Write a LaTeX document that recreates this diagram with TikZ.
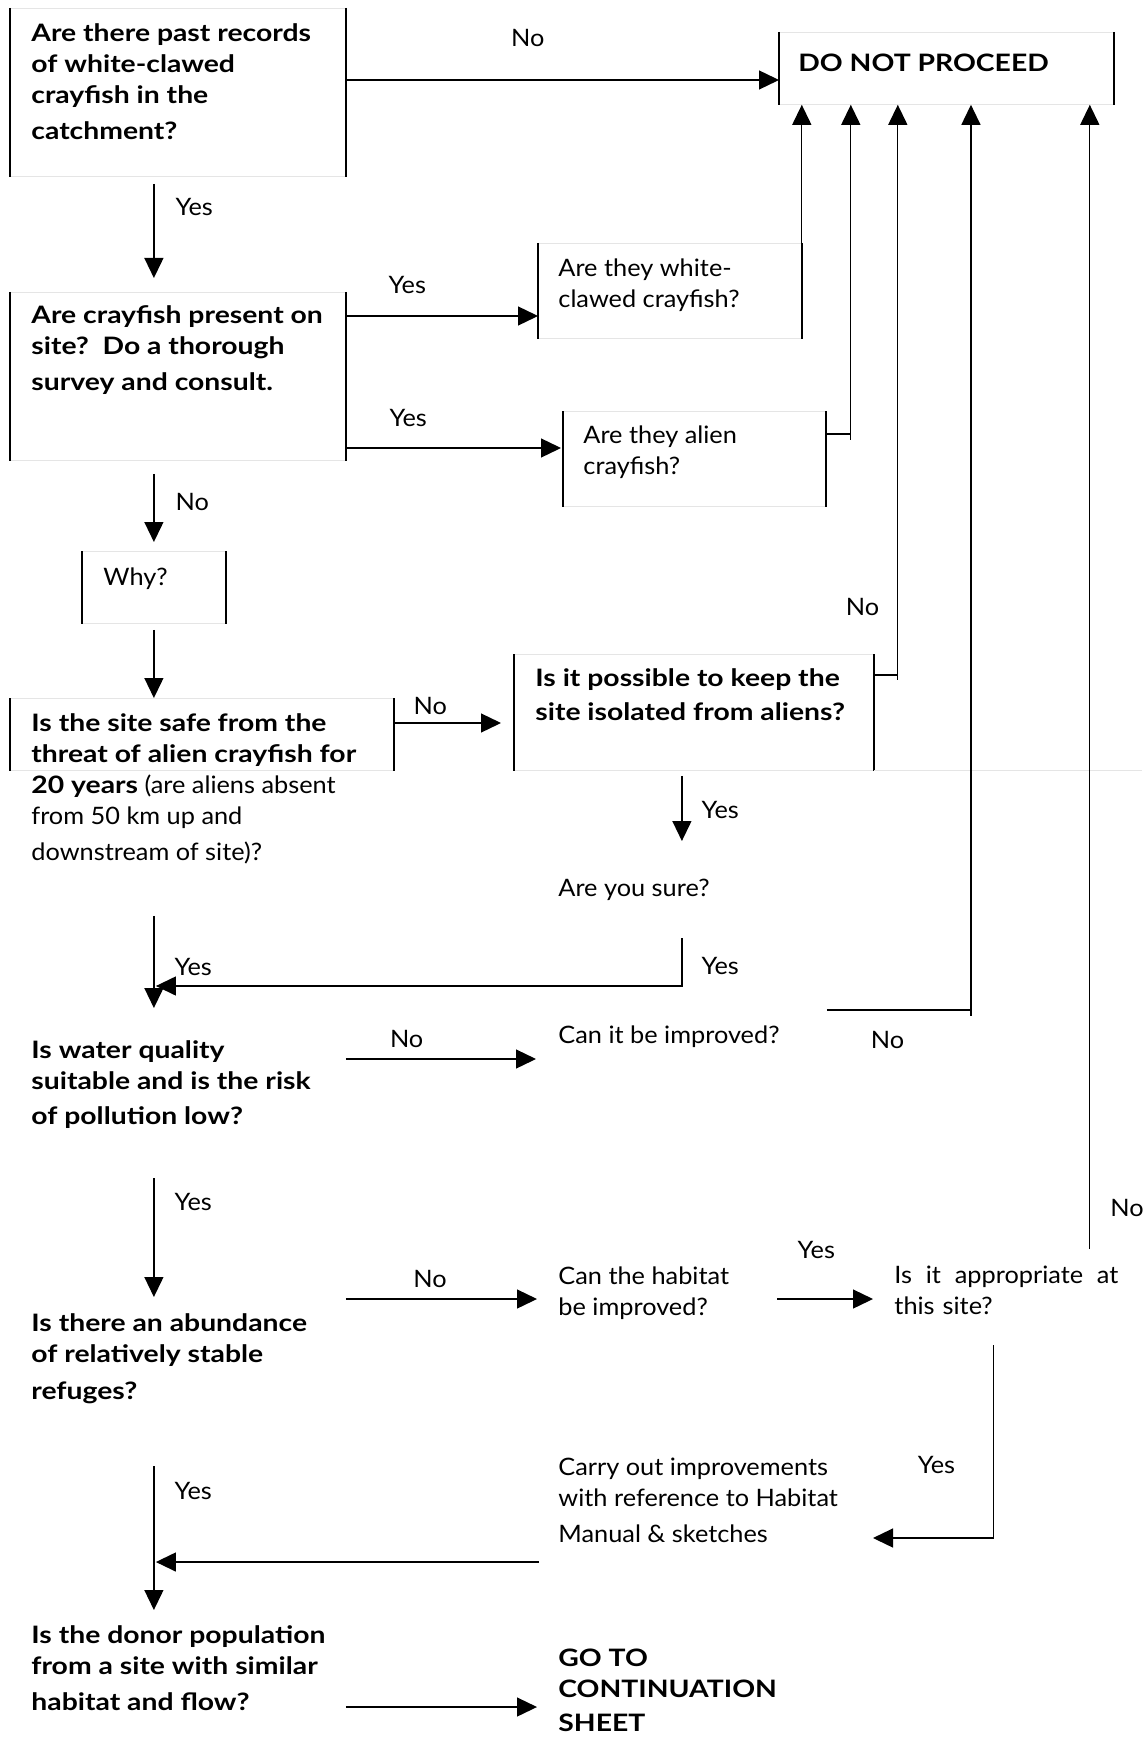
\documentclass[tikz,border=0pt]{standalone}
\usepackage{fontspec}
\setmainfont{Lato}[FakeStretch=1.055,BoldFeatures={FakeStretch=1.18}]
\usetikzlibrary{positioning,calc,arrows.meta}

\newcommand\flowfont{\fontsize{12}{15.5}\selectfont}

\begin{document}
\begin{tikzpicture}[
    x=0.5pt, y=-0.5pt,
    font=\flowfont,
    side/.style={draw=black, line width=0.7pt},
    frame/.style={
        rectangle, draw=black!10, line width=0.4pt, inner sep=0pt, anchor=north west,
        append after command={
            (\tikzlastnode.north west) edge [side] (\tikzlastnode.south west)
            (\tikzlastnode.north east) edge [side] (\tikzlastnode.south east)
        }
    },
    question/.style={align=left, inner sep=0pt, font=\flowfont\bfseries},
    note/.style={align=left, inner sep=0pt},
    answer/.style={inner sep=0pt},
    wire/.style={line width=0.65pt},
    arr/.style={wire, -{Triangle[length=10pt,width=9.5pt]}}
]
    \path [fill=white, use as bounding box] (0,0) rectangle (1147,1738);

    % framed boxes
    \node (records) [frame, minimum width=167.5pt, minimum height=84pt] at (10,8) {};
    \node (dnp) [frame, minimum width=167pt, minimum height=36pt] at (779,32) {};
    \node (present) [frame, minimum width=167.5pt, minimum height=84pt] at (10,292) {};
    \node (white) [frame, minimum width=131.5pt, minimum height=47.5pt] at (538,243) {};
    \node (alien) [frame, minimum width=131pt, minimum height=47.5pt] at (563,411) {};
    \node (why) [frame, minimum width=71.5pt, minimum height=36pt] at (82,551) {};
    \node (safe) [frame, minimum width=191.5pt, minimum height=36pt] at (10,698) {};
    \node (isolate) [frame, minimum width=179.5pt, minimum height=58pt] at (514,654) {};
    \draw [black!10, line width=0.4pt] (isolate.south east) -- ++(268,0);

    % texts in the boxes
    \node (recordsq) [question, below right=7.5pt and 10.5pt of records.north west] {Are there past records\\ of white-clawed\\ crayfish in the\\[2.5pt] catchment?};
    \node (dnpq) [question, below right=11pt and 9.5pt of dnp.north west] {DO NOT PROCEED};
    \node (presentq) [question, below right=6.5pt and 10.5pt of present.north west] {Are crayfish present on\\ site?\ \ Do a thorough\\[2.5pt] survey and consult.};
    \node (whiteq) [note, below right=7.5pt and 10pt of white.north west] {Are they white-\\ clawed crayfish?};
    \node (alienq) [note, below right=7pt and 10pt of alien.north west] {Are they alien\\ crayfish?};
    \node (whyq) [note, below right=8pt and 10.5pt of why.north west] {Why?};
    \node (safeq) [note, below right=7.5pt and 10.5pt of safe.north west] {\textbf{Is the site safe from the}\\ \textbf{threat of alien crayfish for}\\ \textbf{20 years} (are aliens absent\\ from 50 km up and\\[2.5pt] downstream of site)?};
    \node (isolateq) [question, below right=7pt and 10.5pt of isolate.north west] {Is it possible to keep the\\[1.5pt] site isolated from aliens?};

    % free texts
    \node (sure) [note, anchor=north west] at (558,879) {Are you sure?};
    \node (water) [question, anchor=north west] at (31,1040) {Is water quality\\ suitable and is the risk\\[2pt] of pollution low?};
    \node (improve) [note, anchor=north west] at (558,1025) {Can it be improved?};
    \node (abundance) [question, anchor=north west] at (31,1313) {Is there an abundance\\ of relatively stable\\[3pt] refuges?};
    \node (habitat) [note, anchor=north west] at (558,1266) {Can the habitat\\ be improved?};
    \node (appropriate) [note, anchor=north west, text width=112pt] at (894,1266) {Is\hfill it\hfill appropriate\hfill at\\ this site?};
    \node (carry) [note, anchor=north west] at (558,1458) {Carry out improvements\\ with reference to Habitat\\[2.5pt] Manual \& sketches};
    \node (donor) [question, anchor=north west] at (31,1625) {Is the donor population\\ from a site with similar\\[2.5pt] habitat and flow?};
    \node (cont) [question, anchor=north west] at (558,1649) {GO TO\\ CONTINUATION\\[1.5pt] SHEET};

    % into DO NOT PROCEED
    \draw [arr] ($(records.north east)+(0,72)$) -- node [answer, pos=.42, above=16.5pt] {No} ($(records.north east -| dnp.west)+(0,72)$);
    \draw [arr] (white.north east) -- (white.north east |- dnp.south);
    \draw [arr] ($(alien.north east)+(0,23)$) -- ++(25,0) coordinate (alienup) -- (alienup |- dnp.south);
    \draw [wire] (alienup) -- ++(0,6);
    \draw [arr] ($(isolate.north east)+(0,21)$) -- ++(24,0) coordinate (isolateup) -- node [answer, pos=.12, left=9pt] {No} (isolateup |- dnp.south);
    \draw [wire] (isolateup) -- ++(0,5);
    \draw [arr] ($(improve.north east)+(47,-15)$) -- node [answer, pos=.42, below=10.5pt] {No} ++(144,0) coordinate (improveup) -- (improveup |- dnp.south);
    \draw [wire] (improveup) -- ++(0,6);
    \draw [arr] ($(appropriate.north east)+(-29,-17)$) coordinate (approup) -- node [answer, pos=.036, right=10pt] {No} (approup |- dnp.south);

    % main column and side branches
    \draw [arr] ($(records.south -| why)+(0,7)$) -- node [answer, pos=.25, right=10.5pt] {Yes} ($(present.north -| why)+(0,-14)$);
    \draw [arr] ($(present.north east)+(0,24)$) -- node [answer, pos=.32, above=11pt] {Yes} ($(present.north east -| white.west)+(0,24)$);
    \draw [arr] ($(present.north east)+(0,156)$) -- node [answer, pos=.29, above=10.5pt] {Yes} ($(present.north east -| alien.west)+(-2,156)$);
    \draw [arr] ($(present.south -| why)+(0,13)$) -- node [answer, pos=.42, right=10.5pt] {No} ($(why.north)+(0,-9)$);
    \draw [arr] ($(why.south)+(0,6)$) -- (why |- safe.north);
    \draw [arr] ($(safe.north east)+(0,25)$) -- node [answer, pos=.34, above=3.75pt] {No} ($(safe.north east -| isolate.west)+(-13,25)$);
    \draw [arr] ($(isolate.south)+(-12,5)$) coordinate (sureup) -- node [answer, pos=.52, right=9.5pt] {Yes} ($(sureup |- sure.north)+(0,-38)$);
    \draw [arr] ($(sureup |- sure.north)+(0,59)$) -- node [answer, pos=.58, right=9.5pt] {Yes} ($(sureup |- sure.north)+(0,107)$) -- ($(why |- sure.north)+(2,107)$);
    \draw [arr] ($(safe.south -| why)+(0,145)$) -- node [answer, pos=.56, right=10pt] {Yes} ($(water.north -| why)+(0,-32)$);
    \draw [arr] ($(water.north -| records.east)+(0,19)$) -- node [answer, pos=.32, above=5.25pt] {No} ($(water.north -| improve.west)+(-22,19)$);
    \draw [arr] ($(water.north -| why)+(0,138)$) -- node [answer, pos=.2, right=10pt] {Yes} ($(abundance.north -| why)+(0,-16)$);
    \draw [arr] ($(abundance.north -| records.east)+(0,-14)$) -- node [answer, pos=.44, above=5.25pt] {No} ($(abundance.north -| habitat.west)+(-21,-14)$);
    \draw [arr] ($(habitat.north -| appropriate.west)+(-117,33)$) -- node [answer, pos=.41, above=20pt] {Yes} ($(habitat.north -| appropriate.west)+(-21,33)$);
    \draw [arr] ($(appropriate.north east)+(-125,79)$) -- node [answer, pos=.62, left=19pt] {Yes} ($(appropriate.north east |- carry.north)+(-125,80)$) -- ($(carry.north west)+(315,80)$);
    \draw [arr] ($(carry.north west)+(-19,104)$) -- ($(carry.north -| why)+(2,104)$);
    \draw [arr] ($(abundance.north -| why)+(0,153)$) -- node [answer, pos=.17, right=10pt] {Yes} ($(donor.north -| why)+(0,-15)$);
    \draw [arr] ($(donor.north -| records.east)+(0,82)$) -- ($(donor.north -| cont.west)+(-21,82)$);
\end{tikzpicture}
\end{document}
